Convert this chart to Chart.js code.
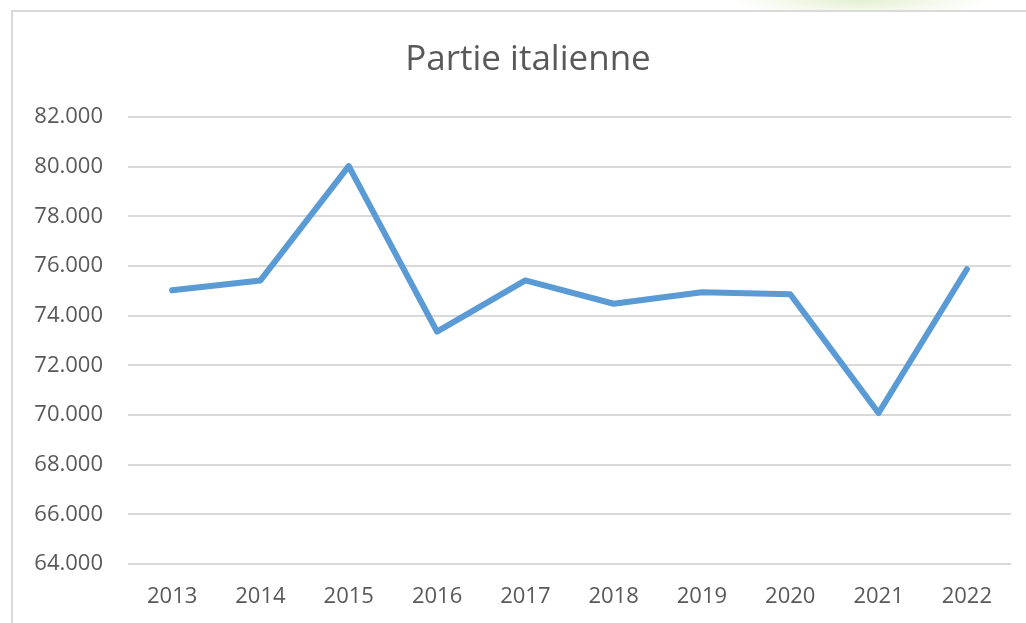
<!DOCTYPE html>
<html>
<head>
<meta charset="utf-8">
<script src="https://cdn.jsdelivr.net/npm/chart.js@4"></script>
<style>
    html, body { margin: 0; padding: 0; background: #fff; }
    body {
        width: 1026px; height: 623px; overflow: hidden; position: relative;
        background: radial-gradient(ellipse 130px 18px at 860px 0px, rgba(225,238,205,0.9), rgba(255,255,255,0) 100%), #fff;
    }
    .frame {
        position: absolute; left: 11px; top: 10px; width: 1040px; height: 640px;
        border: 2px solid #d9d9d9; background: #fff;
    }
    /* wider than the window so the title centre lands a bit right of the plot centre */
    #chartBox { position: absolute; left: 0; top: 0; width: 1042px; height: 623px; }
</style>
</head>
<body>
<div class="frame"></div>
<div id="chartBox"><canvas id="lineCanvas"></canvas></div>
<script>
var years = ['2013', '2014', '2015', '2016', '2017', '2018', '2019', '2020', '2021', '2022'];
var values = [75.02, 75.42, 80.02, 73.36, 75.42, 74.48, 74.94, 74.86, 70.08, 75.87];
var yTicks = [64, 66, 68, 70, 72, 74, 76, 78, 80, 82];

var textColor = '#595959';
var fontFamily = '"Open Sans", Lato, sans-serif';

var ctx = document.getElementById('lineCanvas').getContext('2d');
var lineChart = new Chart(ctx, {
    type: 'line',
    data: {
        labels: years,
        datasets: [{
            label: 'Partie italienne',
            data: values,
            borderColor: '#5b9bd5',
            borderWidth: 6,
            borderCapStyle: 'round',
            borderJoinStyle: 'round',
            pointRadius: 0,
            tension: 0,
            fill: false
        }]
    },
    options: {
        responsive: true,
        maintainAspectRatio: false,
        animation: false,
        layout: {
            padding: { left: 14, right: 0, top: 39, bottom: 0 }
        },
        plugins: {
            legend: { display: false },
            tooltip: { enabled: false },
            title: {
                display: true,
                text: 'Partie italienne',
                color: textColor,
                font: { size: 35, family: fontFamily, weight: 'normal', lineHeight: 1.2 },
                padding: { top: 0, bottom: 36 }
            }
        },
        scales: {
            x: {
                offset: true,
                grid: { display: false, drawTicks: false },
                border: { display: false },
                ticks: {
                    color: textColor,
                    padding: 20,
                    font: { size: 22, family: fontFamily }
                },
                afterFit: function(scale) { scale.height = 59; }
            },
            y: {
                min: 64,
                max: 82,
                afterBuildTicks: function(axis) {
                    axis.ticks = yTicks.map(function(v) { return { value: v }; });
                },
                grid: { color: '#d9d9d9', lineWidth: 2, drawTicks: false },
                border: { display: false },
                ticks: {
                    color: textColor,
                    padding: 25,
                    font: { size: 22, family: fontFamily },
                    callback: function(value) { return value.toFixed(3); }
                },
                afterFit: function(scale) { scale.width = 114; }
            },
            // empty axis on the right, only used as a spacer
            ySpacer: {
                type: 'linear',
                position: 'right',
                grid: { display: false, drawTicks: false },
                border: { display: false },
                ticks: { display: false },
                afterFit: function(scale) { scale.width = 31; }
            }
        }
    }
});
</script>
</body>
</html>
